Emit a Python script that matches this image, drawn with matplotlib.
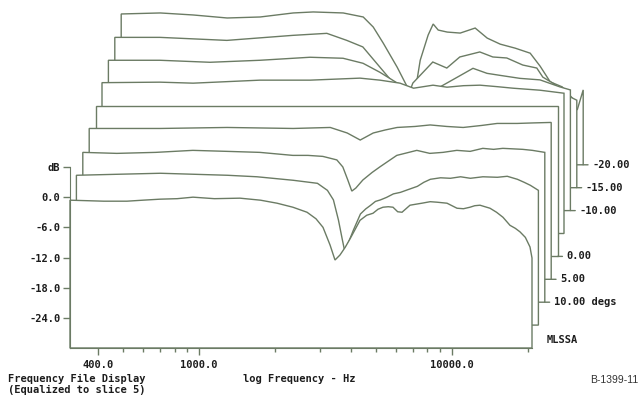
import matplotlib
matplotlib.use("Agg")
import matplotlib.pyplot as plt
from matplotlib.transforms import offset_copy
from matplotlib.ticker import FixedLocator, NullFormatter

# Frequency responses (Hz, dB), equalized to the 0 degree slice, front to back
freq_p20 = [309, 420, 519, 600, 701, 820, 947, 1150, 1452, 1750,
            2034, 2350, 2673, 2900, 3091, 3295, 3448, 3608, 3780, 3953,
            4330, 4600, 4873, 5100, 5336, 5600, 5845, 6100, 6345, 6823,
            7200, 7608, 8200, 8724, 9556, 10466, 11100, 11780, 12300, 12904,
            13500, 14131, 15000, 15907, 16953, 17800, 18570, 19500, 20339, 20715]
db_p20 = [-0.6, -0.8, -0.8, -0.6, -0.4, -0.3, 0.0, -0.3, -0.2, -0.6,
          -1.2, -2.0, -3.0, -4.3, -6.0, -9.5, -12.5, -11.5, -10.0, -8.3,
          -4.6, -3.6, -3.2, -2.4, -2.0, -1.9, -2.0, -2.9, -3.0, -1.6,
          -1.4, -1.2, -0.9, -1.0, -1.2, -2.2, -2.3, -2.0, -1.7, -1.6,
          -1.9, -2.2, -3.0, -4.0, -5.6, -6.2, -6.9, -8.0, -9.9, -12.1]

freq_p15 = [309, 450, 664, 900, 1222, 1600, 2227, 2772, 3036, 3206,
            3356, 3480, 3543, 3642, 3846, 4100, 4300, 4490, 4700, 4918,
            5200, 5536, 5900, 6287, 6885, 7300, 7748, 8500, 9298, 10200,
            11153, 12500, 14261, 15600, 17108, 18200, 19258, 20715]
db_p15 = [-0.2, 0.0, 0.2, 0.0, -0.2, -0.5, -1.2, -1.8, -3.2, -5.1,
          -9.1, -13.1, -15.0, -14.1, -11.1, -7.9, -6.9, -6.2, -5.4, -5.1,
          -4.6, -3.9, -3.6, -3.1, -2.4, -1.6, -1.0, -0.7, -0.8, -0.5,
          -0.8, -0.5, -0.6, -0.4, -1.0, -1.6, -2.2, -3.2]

freq_p10 = [309, 421, 600, 841, 1150, 1547, 2091, 2400, 2747, 3120,
            3295, 3448, 3576, 3709, 3953, 4300, 4613, 5000, 5385, 5900,
            6461, 7271, 8200, 9298, 10500, 11780, 13000, 14131, 15500, 16953,
            18500, 20715]
db_p10 = [-0.2, -0.4, -0.2, 0.2, 0.0, -0.2, -0.8, -0.8, -1.0, -1.7,
          -3.1, -5.7, -7.9, -7.3, -5.7, -4.2, -3.1, -1.9, -0.8, -0.3,
          0.2, -0.4, -0.2, 0.2, 0.0, 0.6, 0.4, 0.6, 0.5, 0.4,
          0.2, -0.2]

freq_p5 = [309, 590, 1085, 1979, 2772, 3235, 3642, 4100, 4573, 5097,
           6000, 6885, 8000, 9298, 11000, 12665, 15199, 17500, 20715]
db_p5 = [0.0, 0.0, 0.2, 0.0, 0.2, -0.9, -2.3, -0.9, -0.3, 0.2,
         0.4, 0.7, 0.4, 0.2, 0.6, 1.0, 1.0, 1.1, 1.2]

freq_0 = [309, 20715]
db_0 = [0.0, 0.0]

freq_m5 = [309, 524, 708, 1302, 2053, 3235, 3881, 4656, 5268, 6287,
           7140, 8300, 9645, 11300, 13022, 16646, 20715]
db_m5 = [0.0, 0.1, -0.1, 0.5, 0.5, 0.9, 0.5, -0.1, -1.1, -0.5,
         -0.9, -0.6, -0.5, -0.8, -1.1, -1.5, -2.1]

freq_m10 = [309, 494, 779, 1228, 1936, 2615, 3137, 3661, 4275, 4811,
            5268, 5772, 6322, 7379, 8535, 9699, 10914, 13092, 15708, 18842,
            20715]
db_m10 = [-0.1, -0.1, -0.5, -0.1, 0.5, 0.3, -0.7, -2.5, -4.6, -5.6,
          -8.0, -7.5, -5.4, -3.5, -1.7, -2.7, -3.1, -3.7, -4.0, -5.4,
          -6.0]

freq_m15 = [309, 466, 857, 1562, 2129, 2553, 2954, 3448, 4026, 4330,
            4656, 5585, 6345, 7140, 8567, 9645, 10952, 12665, 14391, 15199,
            16646, 18911, 20715]
db_m15 = [-0.1, -0.1, -0.7, 0.3, 0.7, -0.7, -2.0, -6.0, -10.0, -13.5,
          -9.2, -5.0, -6.2, -4.0, -3.0, -4.0, -4.2, -5.6, -6.2, -8.0,
          -9.2, -11.6, -12.6]

freq_m20 = [309, 441, 595, 811, 1095, 1479, 1774, 2331, 2797, 3064,
            3356, 3811, 4176, 4370, 4699, 5050, 5287, 5536, 6007, 6761,
            7748, 8646, 9730, 11153, 12786, 14002, 15340, 17108, 18739, 19613,
            20715]
db_m20 = [0.0, 0.2, -0.2, -0.8, -0.6, 0.2, 0.4, 0.2, -0.6, -2.6,
          -5.8, -10.6, -14.5, -19.0, -9.2, -4.2, -2.0, -3.2, -3.6, -3.8,
          -2.8, -4.8, -6.0, -6.8, -7.8, -10.4, -13.5, -14.5, -16.7, -19.1,
          -15.1]

slices = [(freq_p20, db_p20), (freq_p15, db_p15), (freq_p10, db_p10),
          (freq_p5, db_p5), (freq_0, db_0), (freq_m5, db_m5),
          (freq_m10, db_m10), (freq_m15, db_m15), (freq_m20, db_m20)]
slice_labels = ["", "", "10.00 degs", "5.00", "0.00", "", "-10.00", "-15.00", "-20.00"]

x_ticks = [400, 1000, 10000]
x_tick_labels = ["400.0", "1000.0", "10000.0"]
x_minor = [500, 600, 700, 800, 900, 2000, 3000, 4000, 5000, 6000, 7000, 8000, 9000, 20000]
y_ticks = [6, 0, -6, -12, -18, -24]
y_tick_labels = ["dB", "0.0", "-6.0", "-12.0", "-18.0", "-24.0"]

F_MIN, F_MAX = 309, 20715
DB_FLOOR, DB_TOP = -30, 6
STEP_X, STEP_Y = 6.4, 22.9      # screen offset (pixels) between successive slices
LINE = "#6b7b64"
TEXT = "#1c1c1c"
MONO = dict(family="DejaVu Sans Mono", weight="bold", color=TEXT, fontsize=7.5)

W, H = 642, 395
fig = plt.figure(figsize=(W / 100, H / 100), dpi=100)
ax = fig.add_axes([70 / W, 47 / H, 462 / W, 181 / H])
ax.set_xscale("log")
ax.set_xlim(F_MIN, F_MAX)
ax.set_ylim(DB_FLOOR, DB_TOP)

# Waterfall: white-filled slices drawn back to front hide the lines behind them
for k in reversed(range(len(slices))):
    f, d = slices[k]
    tr = offset_copy(ax.transData, fig=fig, x=STEP_X * k, y=STEP_Y * k, units="dots")
    xs = list(f) + [f[-1], f[0]]
    ys = list(d) + [DB_FLOOR, DB_FLOOR]
    ax.fill(xs, ys, facecolor="white", edgecolor=LINE, lw=1.0,
            transform=tr, clip_on=False, zorder=1 + (len(slices) - k) * 0.01)
    if slice_labels[k]:
        ax.annotate(slice_labels[k], xy=(f[-1], DB_FLOOR), xycoords=tr,
                    xytext=(9, 0), textcoords="offset pixels",
                    ha="left", va="center", annotation_clip=False,
                    arrowprops=dict(arrowstyle="-", color=LINE, lw=1.0,
                                    shrinkA=1, shrinkB=0),
                    **MONO)

ax.xaxis.set_major_locator(FixedLocator(x_ticks))
ax.set_xticklabels(x_tick_labels, **MONO)
ax.xaxis.set_minor_locator(FixedLocator(x_minor))
ax.xaxis.set_minor_formatter(NullFormatter())
ax.set_yticks(y_ticks)
ax.set_yticklabels(y_tick_labels, **MONO)
ax.tick_params(axis="x", which="major", direction="out", length=5, width=1,
               color=LINE, pad=4)
ax.tick_params(axis="x", which="minor", direction="out", length=3, width=1,
               color=LINE)
ax.tick_params(axis="y", direction="out", length=5, width=1, color=LINE, pad=2)
for side in ("top", "right"):
    ax.spines[side].set_visible(False)
for side in ("left", "bottom"):
    ax.spines[side].set_color(LINE)
    ax.spines[side].set_zorder(3)

fig.text(547 / W, 1 - 340 / H, "MLSSA", ha="left", va="center", **MONO)
fig.text(8 / W, 1 - 379 / H, "Frequency File Display", ha="left", va="center", **MONO)
fig.text(8 / W, 1 - 390 / H, "(Equalized to slice 5)", ha="left", va="center", **MONO)
fig.text(243 / W, 1 - 379 / H, "log Frequency - Hz", ha="left", va="center", **MONO)
fig.text(638 / W, 1 - 380 / H, "B-1399-11", ha="right", va="center",
         family="Liberation Sans", fontsize=7.5, color="#333333")

fig.savefig("out.png", dpi=100, facecolor="white")
